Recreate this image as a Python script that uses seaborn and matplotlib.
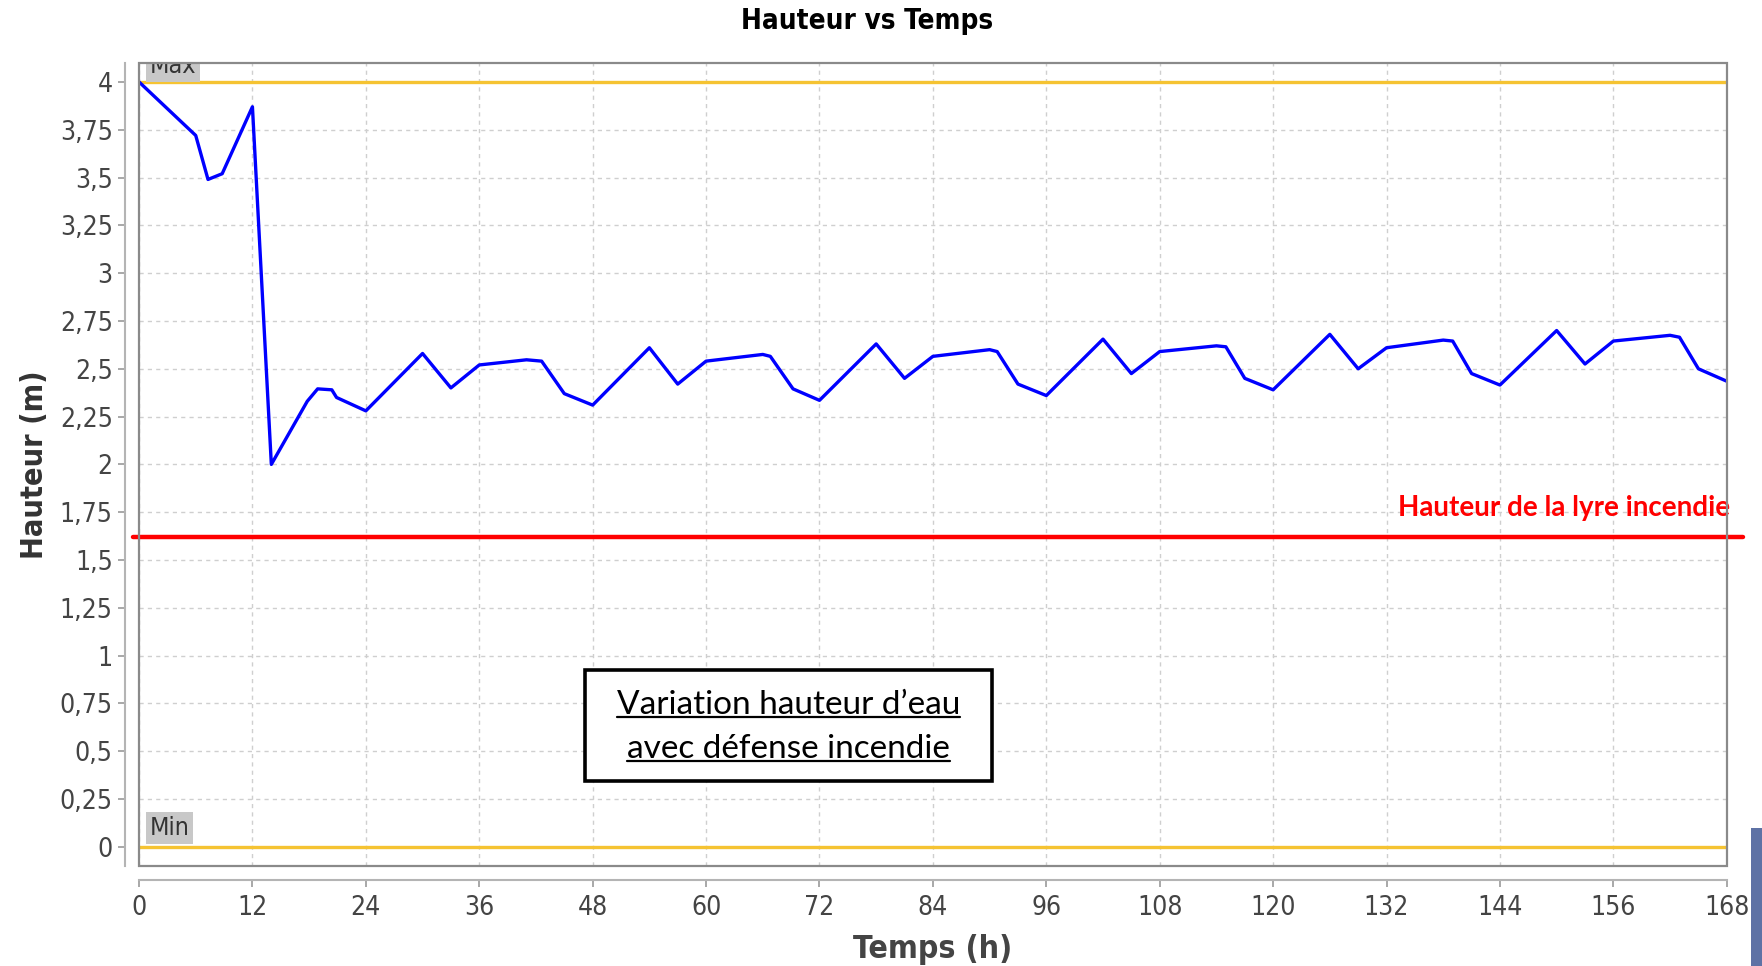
"""
Hauteur d'eau du réservoir sur une semaine, avec défense incendie.
Recreated as a seaborn line chart (JFreeChart-like look).
"""

import numpy as np
import pandas as pd
import matplotlib
matplotlib.use("Agg")   # headless rendering
import matplotlib.pyplot as plt
from matplotlib.patches import Rectangle
from matplotlib.ticker import FuncFormatter
import seaborn as sns

# ─── Data ─────────────────────────────────────────────────────────────────────

TEMPS = [0, 6, 7.3, 8.8, 12, 14, 17.8, 18.9, 20.4, 20.9, 24,
         30, 33, 36, 41, 42.6, 45, 48,
         54, 57, 60, 66, 66.8, 69.2, 72,
         78, 81, 84, 90, 90.8, 93, 96,
         102, 105, 108, 114, 115, 117, 120,
         126, 129, 132, 138, 139, 141, 144,
         150, 153, 156, 162, 163, 165, 168]
HAUTEUR = [4.0, 3.72, 3.49, 3.52, 3.87, 2.0, 2.33, 2.395, 2.39, 2.35, 2.28,
           2.58, 2.40, 2.52, 2.547, 2.54, 2.37, 2.31,
           2.61, 2.42, 2.54, 2.575, 2.565, 2.395, 2.335,
           2.63, 2.45, 2.565, 2.60, 2.59, 2.42, 2.36,
           2.655, 2.475, 2.59, 2.62, 2.615, 2.45, 2.39,
           2.68, 2.50, 2.61, 2.65, 2.645, 2.475, 2.415,
           2.70, 2.525, 2.645, 2.675, 2.665, 2.50, 2.435]

NIVEAU_MAX = 4.0
NIVEAU_MIN = 0.0
HAUTEUR_LYRE = 1.62

X_TICKS = list(range(0, 169, 12))
Y_TICKS = [0, 0.25, 0.5, 0.75, 1, 1.25, 1.5, 1.75, 2, 2.25, 2.5, 2.75,
           3, 3.25, 3.5, 3.75, 4]

TITLE = "Hauteur vs Temps"
X_LABEL = "Temps (h)"
Y_LABEL = "Hauteur (m)"
LYRE_LABEL = "Hauteur de la lyre incendie"
BOX_LINES = ["Variation hauteur d\u2019eau", "avec d\u00e9fense incendie"]

# ─── Style ────────────────────────────────────────────────────────────────────

C = {
    "curve":  "#0000FF",
    "limit":  "#F5C332",
    "lyre":   "#FF0000",
    "grid":   "#cfcfcf",
    "border": "#8a8a8a",
    "axis":   "#b4b4b4",
    "tick":   "#444444",
    "tag":    "#c8c8c8",
    "bar":    "#5E72A5",
}

sns.set_theme(style="white")
plt.rcParams["font.family"] = ["DejaVu Sans"]
plt.rcParams["font.stretch"] = "condensed"

fig = plt.figure(figsize=(17.62, 9.66), dpi=100)
ax = fig.add_axes([0.0789, 0.1035, 0.9011, 0.8315])

df = pd.DataFrame({"temps": TEMPS, "hauteur": HAUTEUR})

# limits Max / Min
ax.axhline(NIVEAU_MAX, color=C["limit"], lw=2.4, zorder=2)
ax.axhline(NIVEAU_MIN, color=C["limit"], lw=2.4, zorder=2)

sns.lineplot(data=df, x="temps", y="hauteur", color=C["curve"], lw=2.4,
             ax=ax, zorder=4)

# fire-hydrant level, runs a bit past the plot edges
ax.axhline(HAUTEUR_LYRE, xmin=-0.004, xmax=1.01, color=C["lyre"], lw=3.2,
           clip_on=False, zorder=5)
ax.text(168.4, HAUTEUR_LYRE + 0.11, LYRE_LABEL, ha="right", va="baseline",
        fontsize=20, fontweight="bold", family="Lato", fontstretch="normal",
        color=C["lyre"], zorder=6)

# tags
tag_box = dict(boxstyle="square,pad=0.15", fc=C["tag"], ec="none")
ax.text(1.1, NIVEAU_MAX + 0.02, "Max", fontsize=18, color="#333333",
        va="bottom", ha="left", bbox=tag_box, clip_on=True, zorder=3)
ax.text(1.1, NIVEAU_MIN + 0.035, "Min", fontsize=18, color="#333333",
        va="bottom", ha="left", bbox=tag_box, clip_on=True, zorder=3)

# axes
ax.set_xlim(0, 168)
ax.set_ylim(-0.1, 4.1)
ax.set_xticks(X_TICKS)
ax.set_yticks(Y_TICKS)
ax.yaxis.set_major_formatter(FuncFormatter(lambda v, _: f"{v:g}".replace(".", ",")))
ax.grid(True, color=C["grid"], linestyle=(0, (3, 3)), linewidth=1.0)
ax.set_axisbelow(True)

for side in ["top", "right"]:
    ax.spines[side].set_visible(False)
for side in ["left", "bottom"]:
    ax.spines[side].set_position(("outward", 10))
    ax.spines[side].set_color(C["axis"])
    ax.spines[side].set_linewidth(1.5)
ax.add_patch(Rectangle((0, 0), 1, 1, transform=ax.transAxes, fill=False,
                       edgecolor=C["border"], lw=1.6, clip_on=False, zorder=8))

ax.tick_params(axis="both", direction="out", length=5, width=1.2,
               color="#999999", labelcolor=C["tick"], labelsize=19,
               bottom=True, left=True)
ax.tick_params(axis="y", pad=4)
ax.tick_params(axis="x", pad=6)

ax.set_xlabel(X_LABEL, fontsize=23, fontweight="bold", color=C["tick"],
              labelpad=9)
ax.set_ylabel(Y_LABEL, fontsize=22, fontweight="bold", color="#333333",
              labelpad=8)

fig.text(0.492, 0.978, TITLE, ha="center", va="center", fontsize=20,
         fontweight="bold", color="black")

# annotation box with underlined text
ax.add_patch(Rectangle((47.2, 0.343), 43.1, 0.583, transform=ax.transData,
                       facecolor="white", edgecolor="black", lw=2.6, zorder=6))
texts = []
for line, yb in zip(BOX_LINES, [0.693, 0.466]):
    texts.append((ax.text(68.7, yb, line, ha="center", va="baseline",
                          fontsize=24, family="Lato", fontstretch="normal",
                          color="black", zorder=7), yb))
fig.canvas.draw()
inv = ax.transData.inverted()
for t, yb in texts:
    bb = t.get_window_extent()
    x0 = inv.transform((bb.x0, 0))[0]
    x1 = inv.transform((bb.x1, 0))[0]
    ax.plot([x0, x1], [yb - 0.016, yb - 0.016], color="black", lw=1.6, zorder=7)

# slate bar cut at the bottom-right corner of the slide
fig.add_artist(Rectangle((1751 / 1762, 0), 11 / 1762, 138 / 966,
                         transform=fig.transFigure, color=C["bar"], lw=0))

fig.savefig("out.png", dpi=100)
plt.close(fig)
